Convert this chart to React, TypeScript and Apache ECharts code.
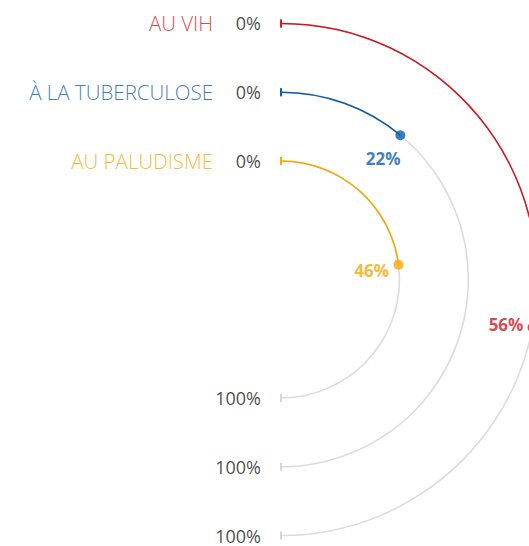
import React, { useEffect, useRef } from 'react';
import * as echarts from 'echarts';

// inner ring to outer ring
const categories = ['AU PALUDISME', 'À LA TUBERCULOSE', 'AU VIH'];
const values = [46, 22, 56];
const colors = ['#f6a800', '#0b5dac', '#d3141f'];
const startTickLabel = '0%';
const endTickLabel = '100%';
const maxValue = 100;

export default function App() {
  const ref = useRef<HTMLDivElement>(null);

  useEffect(() => {
    if (!ref.current) return;
    const chart = echarts.init(ref.current, null, { renderer: 'svg' });
    const labelFont = 'Open Sans, Noto Sans, sans-serif';

    const option: any = {
      animation: false,
      backgroundColor: '#ffffff',
      polar: { center: [281, 279.5], radius: [84, 290.5] },
      angleAxis: {
        type: 'value',
        min: 0,
        max: maxValue * 2,
        startAngle: 90,
        clockwise: true,
        axisLine: { show: false },
        axisTick: { show: false },
        axisLabel: { show: false },
        splitLine: { show: false },
      },
      radiusAxis: {
        type: 'category',
        data: categories,
        axisLine: { show: false },
        axisTick: { show: false },
        axisLabel: { show: false },
        splitLine: { show: false },
      },
      series: [
        {
          type: 'bar',
          coordinateSystem: 'polar',
          data: categories.map(() => maxValue),
          barWidth: 1.5,
          barGap: '-100%',
          itemStyle: { color: '#dcdcdc' },
          silent: true,
          z: 1,
        },
        {
          type: 'bar',
          coordinateSystem: 'polar',
          data: values.map((v, i) => ({ value: v, itemStyle: { color: colors[i] } })),
          barWidth: 1.5,
          barGap: '-100%',
          silent: true,
          z: 2,
        },
        // start ticks with percentage label
        {
          type: 'scatter',
          coordinateSystem: 'polar',
          symbol: 'rect',
          symbolSize: [2, 8],
          data: categories.map((c, i) => ({ value: [i, 0], itemStyle: { color: colors[i] } })),
          label: {
            show: true,
            position: 'left',
            distance: 19,
            formatter: startTickLabel,
            color: '#1a1a1a',
            fontFamily: labelFont,
            fontSize: 18,
            lineHeight: 16,
          },
          silent: true,
          z: 3,
        },
        // category names (same tick positions, further left)
        {
          type: 'scatter',
          coordinateSystem: 'polar',
          symbol: 'rect',
          symbolSize: [2, 8],
          data: categories.map((c, i) => ({
            value: [i, 0],
            itemStyle: { color: colors[i] },
            label: { color: colors[i] },
          })),
          label: {
            show: true,
            position: 'left',
            distance: 67,
            formatter: (p: any) => categories[p.dataIndex],
            fontFamily: labelFont,
            fontWeight: 300,
            fontSize: 20.5,
            lineHeight: 18,
          },
          silent: true,
          z: 3,
        },
        // end ticks
        {
          type: 'scatter',
          coordinateSystem: 'polar',
          symbol: 'rect',
          symbolSize: [2, 8],
          data: categories.map((c, i) => [i, maxValue]),
          itemStyle: { color: '#cccccc' },
          label: {
            show: true,
            position: 'left',
            distance: 19,
            formatter: endTickLabel,
            color: '#1a1a1a',
            fontFamily: labelFont,
            fontSize: 18,
            lineHeight: 14,
          },
          silent: true,
          z: 3,
        },
        // value dots
        {
          type: 'scatter',
          coordinateSystem: 'polar',
          symbol: 'circle',
          symbolSize: 10,
          data: values.map((v, i) => {
            const t = (v / maxValue) * Math.PI;
            return {
              value: [i, v],
              itemStyle: { color: colors[i] },
              label: {
                color: colors[i],
                offset: [-27 * Math.sin(t), 27 * Math.cos(t) + 2],
              },
            };
          }),
          label: {
            show: true,
            position: 'inside',
            align: 'center',
            verticalAlign: 'middle',
            formatter: (p: any) => values[p.dataIndex] + '%',
            fontFamily: labelFont,
            fontWeight: 'bold',
            fontSize: 17,
          },
          silent: true,
          z: 4,
        },
      ],
    };

    chart.setOption(option);
    return () => chart.dispose();
  }, []);

  return (
    <div
      ref={ref}
      style={{ position: 'absolute', left: 0, top: 0, width: 529, height: 546 }}
    />
  );
}
